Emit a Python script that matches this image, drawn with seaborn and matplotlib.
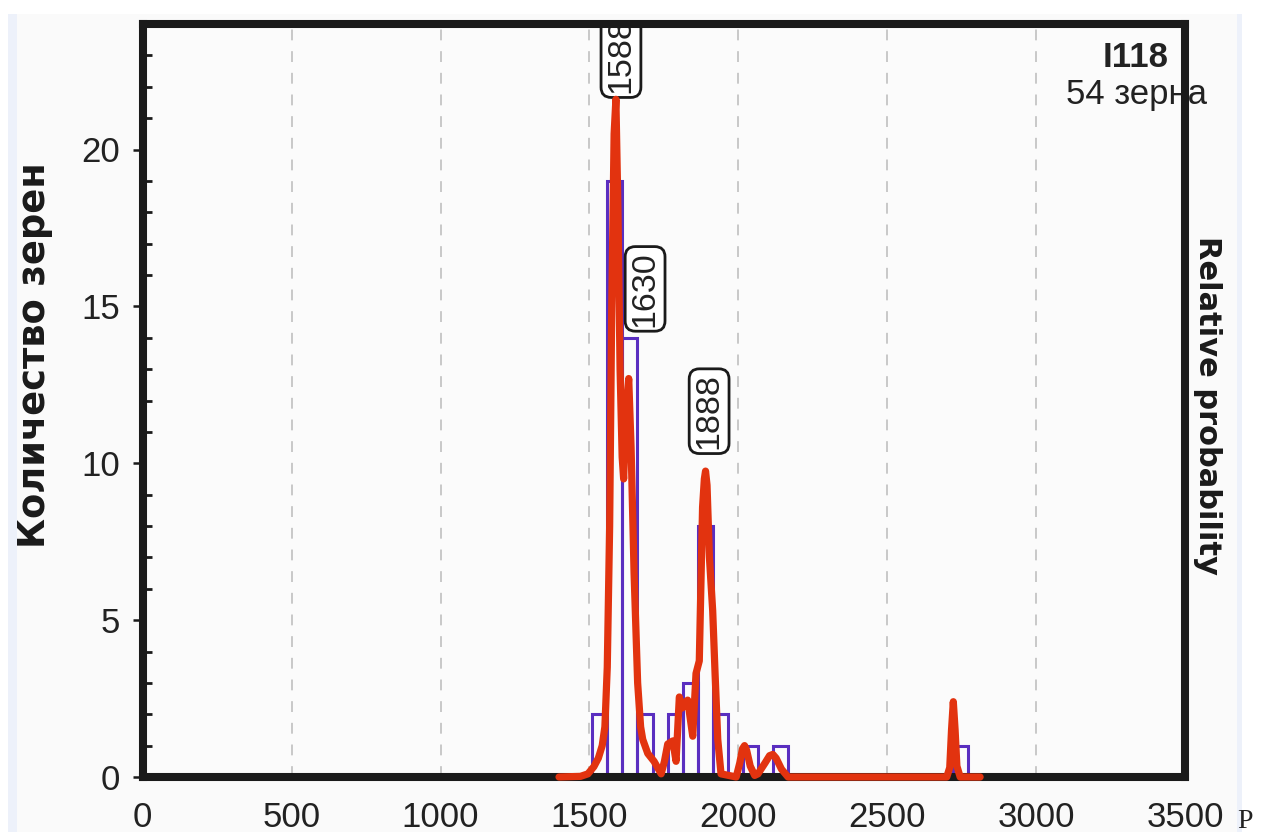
import numpy as np
import pandas as pd
import matplotlib
matplotlib.use('Agg')
import matplotlib.pyplot as plt
from matplotlib.patches import Rectangle
from matplotlib.ticker import MultipleLocator
import seaborn as sns

# Grain counts per age bin (histogram)
bin_edges = list(np.linspace(1510, 2772, 26))
bin_counts = [2, 19, 14, 2, 0, 2, 3, 8, 2, 0, 1, 0, 1,
              0, 0, 0, 0, 0, 0, 0, 0, 0, 0, 0, 1]

# Relative probability curve
curve_age = [1398, 1470, 1495, 1515, 1530, 1543, 1552, 1560, 1568, 1575, 1583, 1589,
             1596, 1603, 1610, 1615, 1622, 1632, 1640, 1650, 1662, 1672,
             1679, 1696, 1717, 1741, 1752, 1763, 1780, 1791, 1802, 1812,
             1819, 1830, 1847, 1858, 1869, 1880, 1886, 1890, 1895, 1903, 1914, 1922,
             1931, 1942, 1993, 2005, 2014, 2021, 2028, 2040, 2055, 2066, 2090, 2105,
             2116, 2127, 2145, 2167, 2700, 2710, 2716, 2722, 2728, 2734, 2745, 2812]
curve_prob = [0, 0.02, 0.1, 0.33, 0.6, 1.0, 1.6, 3.5, 8.0, 15.0, 20.5, 21.6,
              18.0, 13.0, 10.2, 9.5, 11.5, 12.7, 10.5, 6.5, 3.0, 1.6,
              1.2, 0.75, 0.5, 0.1, 0.5, 1.05, 1.15, 0.5, 2.55, 2.2,
              2.35, 2.45, 1.3, 3.3, 3.7, 8.6, 9.5, 9.75, 9.3, 7.0, 5.3, 3.3,
              1.2, 0.1, 0.0, 0.45, 0.9, 1.0, 0.85, 0.35, 0.05, 0.1, 0.45, 0.68,
              0.72, 0.6, 0.25, 0.0, 0.0, 0.3, 1.5, 2.4, 1.5, 0.35, 0.0, 0.0]

peak_ages = ['1588', '1630', '1888']
sample_name = 'I118'
grain_text = '54 зерна'

sns.set_style('white')
plt.rcParams['font.family'] = ['Liberation Sans', 'DejaVu Sans']

fig = plt.figure(figsize=(12.63, 8.32), dpi=100, facecolor='white')
W, H = 1263, 832
# background panels of the original page
fig.patches.append(Rectangle((17 / W, 0), 1220 / W, 818 / H, transform=fig.transFigure,
                             fc='#fafafa', ec='none', zorder=-10))
fig.patches.append(Rectangle((8 / W, 0), 9 / W, 818 / H, transform=fig.transFigure,
                             fc='#edf1fa', ec='none', zorder=-10))
fig.patches.append(Rectangle((1237 / W, 0), 5 / W, 818 / H, transform=fig.transFigure,
                             fc='#edf1fa', ec='none', zorder=-10))

ax = fig.add_axes([142.7 / W, 1 - 777 / H, 1042.3 / W, 753 / H])
ax.set_facecolor('#fbfbfb')

hist_df = pd.DataFrame({
    'age': [(a + b) / 2 for a, b in zip(bin_edges[:-1], bin_edges[1:])],
    'count': bin_counts,
})
sns.histplot(data=hist_df, x='age', weights='count', bins=bin_edges, fill=False,
             color='#5a2ec0', linewidth=2.2, ax=ax)

ax.set_xlim(0, 3500)
ax.set_ylim(0, 24)
ax.xaxis.set_major_locator(MultipleLocator(500))
ax.xaxis.set_minor_locator(MultipleLocator(100))
ax.yaxis.set_major_locator(MultipleLocator(5))
ax.yaxis.set_minor_locator(MultipleLocator(1))
ax.xaxis.grid(True, which='major', linestyle=(0, (6, 6)), color='#c4c4c4', linewidth=1.3)
ax.yaxis.grid(False)
ax.set_axisbelow(True)

for s in ax.spines.values():
    s.set_linewidth(5.8)
    s.set_color('#1a1a1a')
    s.set_visible(True)

ax.tick_params(axis='both', which='major', direction='out', length=7.5, width=1.8,
               color='#1a1a1a', labelsize=25, labelcolor='#222222', pad=9)
ax.tick_params(axis='both', which='minor', direction='in', length=6.5, width=2,
               color='#1a1a1a')
ax.tick_params(axis='x', which='major', pad=10)
ax.set_xlabel('')
ax.set_ylabel('Количество зерен', fontsize=26.5, fontweight='bold', color='#1a1a1a',
              family=['DejaVu Sans'], va='center')
ax.yaxis.set_label_coords(-0.104, 0.56)

# peak age labels
label_x = [1606, 1687, 1902]
label_y = [21.8, 14.35, 10.45]
for txt, lx, ly in zip(peak_ages, label_x, label_y):
    ax.text(lx, ly, txt, rotation=90, ha='center', va='bottom', fontsize=24.5,
            color='#222222', zorder=2.4, clip_on=True,
            bbox=dict(boxstyle='round,pad=0.13,rounding_size=0.3', fc='white',
                      ec='#1a1a1a', lw=2))

ax.text(0.953, 0.955, sample_name, transform=ax.transAxes, ha='center', va='center',
        fontsize=25, fontweight='bold', color='#222222', zorder=2)
ax.text(0.953, 0.906, grain_text, transform=ax.transAxes, ha='center', va='center',
        fontsize=25, color='#222222', zorder=2)

# probability curve on the right axis
ax2 = ax.twinx()
sns.lineplot(x=curve_age, y=curve_prob, sort=False, color='#e2330f', linewidth=5.2,
             ax=ax2)
for ln in ax2.lines:
    ln.set_clip_on(False)
    ln.set_solid_joinstyle('round')
    ln.set_solid_capstyle('round')
ax2.set_ylim(0, 24)
ax2.set_xlim(0, 3500)
ax2.set_yticks([])
for s in ax2.spines.values():
    s.set_visible(False)
ax2.set_ylabel('Relative probability', rotation=270, fontsize=22, fontweight='bold',
               color='#1a1a1a', family=['DejaVu Sans'], va='center')
ax2.yaxis.set_label_coords(1.022, 0.494)

fig.text(1245 / W, 1 - 821 / H, 'P', family=['Liberation Serif'], fontsize=20,
         ha='center', va='center', color='#222222')

fig.savefig('out.png', dpi=100)
